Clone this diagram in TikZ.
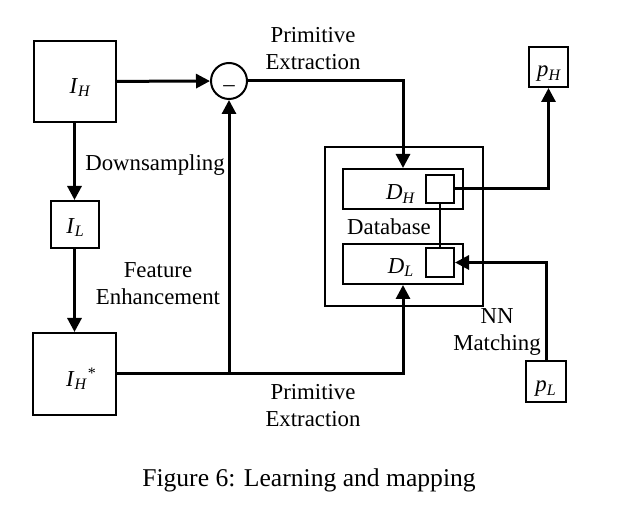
\documentclass[tikz,border=0pt]{standalone}
\usepackage{fontspec}
\setmainfont{Liberation Serif}
\usetikzlibrary{arrows.meta}

\newcommand{\itsub}[2]{\textit{#1}\textsubscript{\textit{#2}}}
% text set with its baseline #2 below the node centre, shifted right by #1
\newcommand{\boxtxt}[3]{\raisebox{-#2}[0pt][0pt]{\hspace*{#1}#3}}

\tikzset{
  box/.style={draw, line width=1pt, inner sep=0pt, font=\fontsize{11.4}{14}\selectfont},
  arr/.style={line width=1.5pt, -{Triangle[length=7pt,width=7pt]}},
  lbl/.style={align=center, inner sep=0pt, font=\fontsize{11.4}{13.5}\selectfont}
}

\begin{document}
\begin{tikzpicture}[x=0.5pt,y=-0.5pt]
  \useasboundingbox (0,0) rectangle (619,506);
  % image boxes
  \node[box, minimum width=41pt, minimum height=40.5pt] (IH) at (74.5,81.5) {\boxtxt{6pt}{6pt}{\itsub{I}{H}}};
  \node[box, minimum width=24pt, minimum height=23.5pt] (IL) at (74.5,224.5) {\boxtxt{1pt}{4.3pt}{\itsub{I}{L}}};
  \node[box, minimum width=41.5pt, minimum height=41pt] (IHs) at (74.5,374) {\boxtxt{7pt}{6pt}{\itsub{I}{H}\textsuperscript{*}}};
  \node[draw, line width=1pt, circle, minimum size=18pt, inner sep=0pt, font=\fontsize{11.4}{14}\selectfont] (minus) at (229,81) {\raisebox{-5.3pt}[0pt][0pt]{--}};
  % database
  \node[box, minimum width=79pt, minimum height=79.5pt] (DB) at (404,226.5) {};
  \node[box, minimum width=60pt, minimum height=20pt] (DH) at (403,189) {};
  \node[box, minimum width=60pt, minimum height=20pt] (DL) at (403,264) {};
  \node[box, minimum width=14pt, minimum height=14pt] (sqH) at (440,189) {};
  \node[box, minimum width=14pt, minimum height=14.5pt] (sqL) at (440,262.5) {};
  \node[lbl] (DHt) at (401,189) {\boxtxt{0pt}{5.5pt}{\itsub{D}{H}}};
  \node[lbl] (DLt) at (401,264) {\boxtxt{0pt}{4.6pt}{\itsub{D}{L}}};
  \node[lbl] (DBt) at (389,227) {Database};
  % patches
  \node[box, minimum width=19.5pt, minimum height=20pt] (pH) at (548.5,67) {\boxtxt{1pt}{5pt}{\itsub{p}{H}}};
  \node[box, minimum width=20pt, minimum height=20.5pt] (pL) at (546,381.5) {\boxtxt{0pt}{5.2pt}{\itsub{p}{L}}};
  % connectors
  \draw[arr] (IH) -- (minus);
  \draw[arr] (minus.east) -| (DH.north);
  \draw[arr] (IH) -- (IL);
  \draw[arr] (IL) -- (IHs);
  \draw[arr] (IHs.east) -| (DL.south);
  \coordinate (fe) at (minus |- IHs.east);
  \draw[arr] (fe) -- (minus.south);
  \draw[arr] (sqH.east) -| (pH.south);
  \draw[arr] (pL.north) |- (sqL.east);
  \draw[line width=1pt] (sqH) -- (sqL);
  % labels
  \node[lbl] (pe1) at (313,49) {Primitive\\Extraction};
  \node[lbl] (ds) at (155,165) {Downsampling};
  \node[lbl] (fen) at (158,284) {Feature\\Enhancement};
  \node[lbl] (nn) at (497,332) {NN\\Matching};
  \node[lbl] (pe2) at (313,406) {Primitive\\Extraction};
  \node[lbl, font=\fontsize{12.8}{15}\selectfont] (cap) at (309,480) {Figure 6: Learning and mapping};
\end{tikzpicture}
\end{document}
